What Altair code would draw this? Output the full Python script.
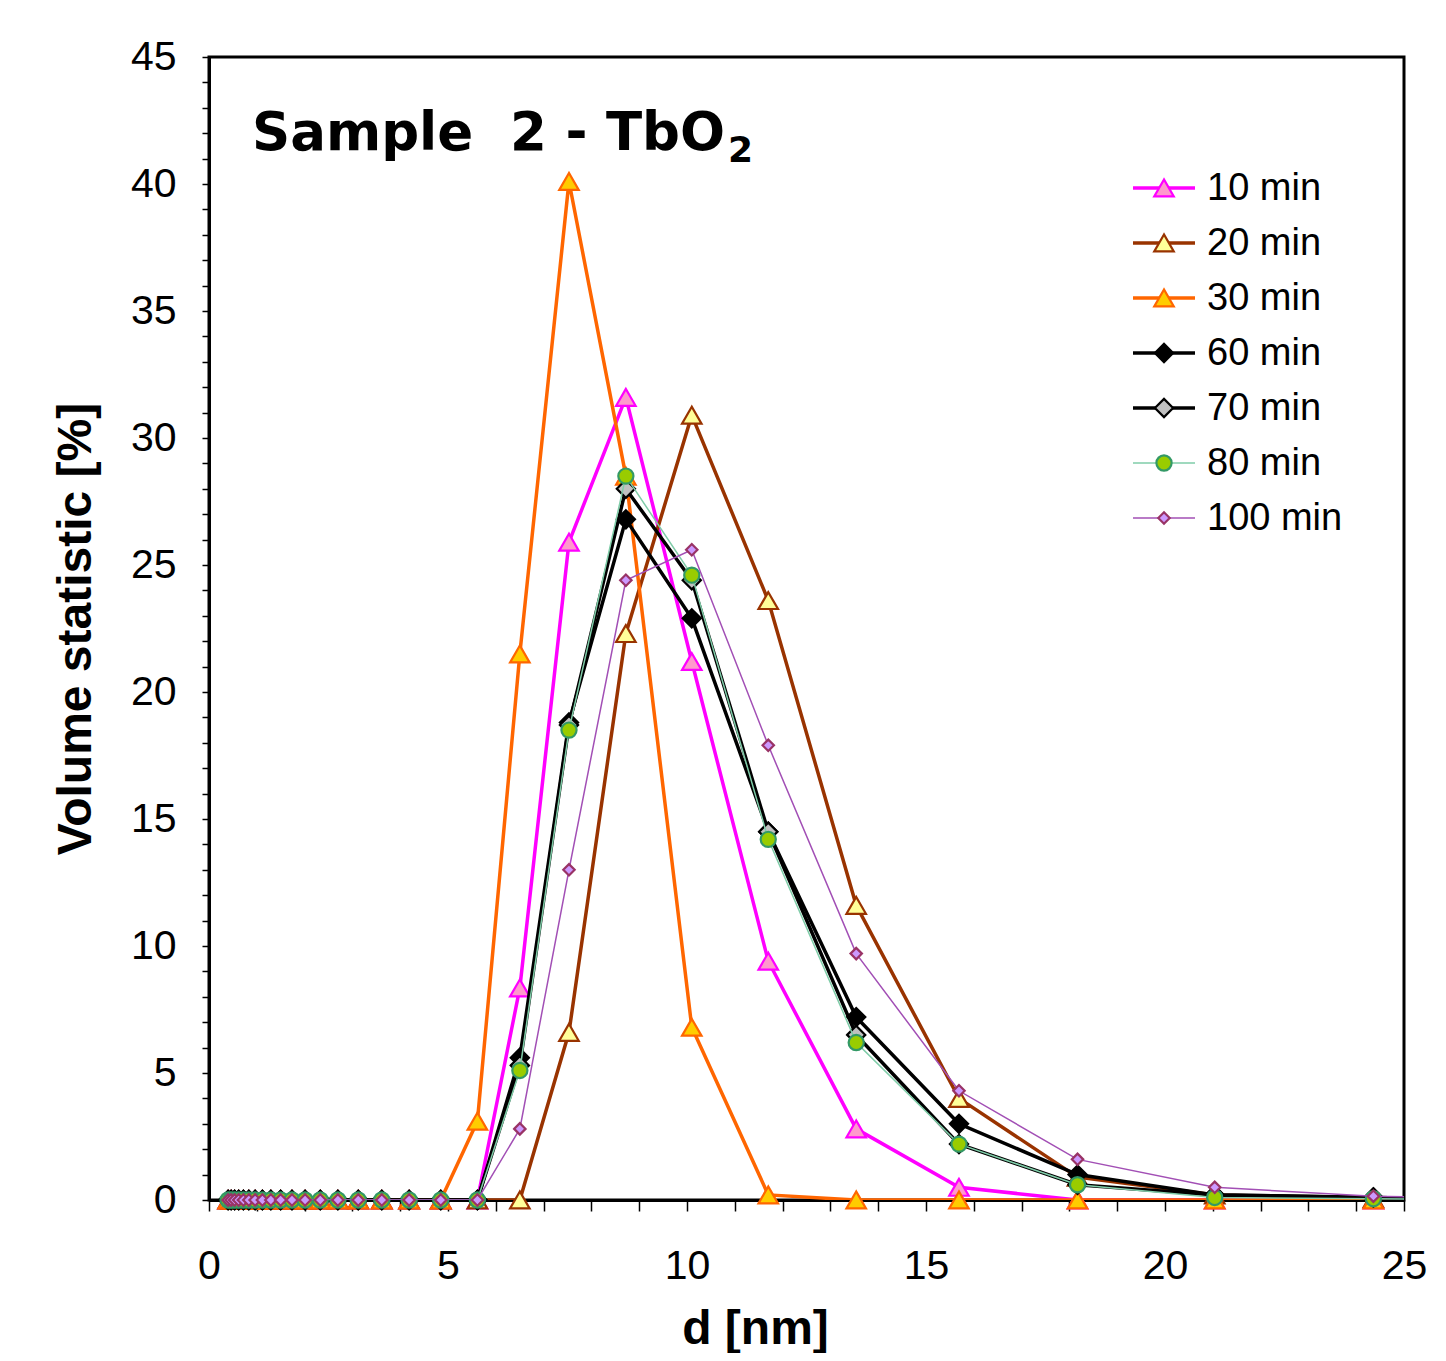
import altair as alt
import pandas as pd

# Size bins [nm]
d_nm = [0.4, 0.4632, 0.5365, 0.6213, 0.7195, 0.8332, 0.9649, 1.117, 1.294, 1.499,
        1.736, 2.01, 2.328, 2.696, 3.122, 3.615, 4.187, 4.849, 5.615, 6.503,
        7.531, 8.721, 10.1, 11.7, 13.54, 15.69, 18.17, 21.04, 24.36, 28.21]

series_names = ["10 min", "20 min", "30 min", "60 min", "70 min", "80 min", "100 min"]

v10 = [0, 0, 0, 0, 0, 0, 0, 0, 0, 0, 0, 0, 0, 0, 0, 0, 0, 0,
       0, 8.35, 25.9, 31.6, 21.2, 9.4, 2.8, 0.5, 0, 0, 0, 0]
v20 = [0, 0, 0, 0, 0, 0, 0, 0, 0, 0, 0, 0, 0, 0, 0, 0, 0, 0,
       0, 0, 6.6, 22.3, 30.9, 23.6, 11.6, 4.0, 0.9, 0.2, 0.05, 0]
v30 = [0, 0, 0, 0, 0, 0, 0, 0, 0, 0, 0, 0, 0, 0, 0, 0, 0, 0,
       3.1, 21.5, 40.1, 28.5, 6.8, 0.2, 0, 0, 0, 0, 0, 0]
v60 = [0, 0, 0, 0, 0, 0, 0, 0, 0, 0, 0, 0, 0, 0, 0, 0, 0, 0,
       0, 5.6, 18.8, 26.8, 22.9, 14.5, 7.2, 3.0, 1.0, 0.2, 0.1, 0]
v70 = [0, 0, 0, 0, 0, 0, 0, 0, 0, 0, 0, 0, 0, 0, 0, 0, 0, 0,
       0, 5.3, 18.7, 28.0, 24.4, 14.5, 6.5, 2.2, 0.6, 0.2, 0.1, 0]
v80 = [0, 0, 0, 0, 0, 0, 0, 0, 0, 0, 0, 0, 0, 0, 0, 0, 0, 0,
       0, 5.1, 18.5, 28.5, 24.6, 14.2, 6.2, 2.2, 0.6, 0.1, 0.05, 0]
v100 = [0, 0, 0, 0, 0, 0, 0, 0, 0, 0, 0, 0, 0, 0, 0, 0, 0, 0,
        0, 2.8, 13.0, 24.4, 25.6, 17.9, 9.7, 4.3, 1.6, 0.5, 0.15, 0]

values = [v10, v20, v30, v60, v70, v80, v100]

# styles: line colour, line width, marker shape, marker size, fill, stroke
styles = {
    "10 min": ("#FF00FF", 3.5, "triangle-up", 380, "#FF99CC", "#FF00FF"),
    "20 min": ("#993300", 3.5, "triangle-up", 380, "#FFFF99", "#993300"),
    "30 min": ("#FF6600", 3.5, "triangle-up", 380, "#FFCC00", "#FF6600"),
    "60 min": ("#000000", 3.5, "diamond", 330, "#000000", "#000000"),
    "70 min": ("#000000", 3.5, "diamond", 330, "#C0C0C0", "#000000"),
    "80 min": ("#7FCCA8", 1.5, "circle", 230, "#99CC00", "#339966"),
    "100 min": ("#A24FB5", 1.5, "diamond", 130, "#CC99FF", "#993366"),
}

rows = []
for name, vals in zip(series_names, values):
    for d, v in zip(d_nm, vals):
        rows.append({"series": name, "d": d, "v": v})
df = pd.DataFrame(rows)

FONT = "Liberation Sans"

x_enc = alt.X("d:Q", scale=alt.Scale(domain=[0, 25], nice=False, zero=False),
              axis=alt.Axis(values=list(range(0, 26)),
                            labelExpr="datum.value % 5 === 0 ? datum.label : ''",
                            labelFlush=False,
                            tickSize=11, tickWidth=1.5, tickColor="black",
                            labelPadding=35, labelFontSize=41, labelFont=FONT, labelColor="black",
                            domainColor="black", domainWidth=3, grid=False,
                            title="d [nm]", titleFont=FONT, titleFontSize=48,
                            titleFontWeight="bold", titleColor="black", titlePadding=19,
                            titleX=546))
y_enc = alt.Y("v:Q", scale=alt.Scale(domain=[0, 45], nice=False),
              axis=alt.Axis(values=list(range(0, 46)),
                            labelExpr="datum.value % 5 === 0 ? datum.label : ''",
                            labelFlush=False,
                            tickSize=7, tickWidth=1.5, tickColor="black",
                            labelPadding=26, labelFontSize=41, labelFont=FONT, labelColor="black",
                            domainColor="black", domainWidth=3, grid=False,
                            title="Volume statistic [%]", titleFont=FONT, titleFontSize=48,
                            titleFontWeight="bold", titleColor="black", titlePadding=30))

base = alt.Chart(df)
layers = []
for i, name in enumerate(series_names):
    lc, lw, shp, sz, fc, sc = styles[name]
    sub = base.transform_filter(alt.datum.series == name)
    line = sub.mark_line(color=lc, strokeWidth=lw, clip=True).encode(x=x_enc, y=y_enc)
    pts = sub.transform_filter(alt.datum.d <= 25).mark_point(
        shape=shp, size=sz, filled=True, fill=fc, stroke=sc, strokeWidth=2.2, opacity=1
    ).encode(x=x_enc, y=y_enc)
    layers += [line, pts]

# legend
leg_df = pd.DataFrame({"series": series_names})
for i, name in enumerate(series_names):
    lc, lw, shp, sz, fc, sc = styles[name]
    ly = 131 + 55 * i
    lsub = alt.Chart(leg_df).transform_filter(alt.datum.series == name)
    layers.append(lsub.mark_rule(color=lc, strokeWidth=lw).encode(
        x=alt.value(924), x2=alt.value(986), y=alt.value(ly)))
    layers.append(lsub.mark_point(shape=shp, size=sz, filled=True, fill=fc, stroke=sc,
                                  strokeWidth=2.2, opacity=1).encode(
        x=alt.value(955), y=alt.value(ly)))
    layers.append(lsub.mark_text(align="left", baseline="middle", font=FONT, fontSize=38,
                                 color="black").encode(
        x=alt.value(998), y=alt.value(ly + 1), text="series:N"))

title_df = pd.DataFrame({"t": ["Sample\u00a0\u00a02 - TbO"], "sub": ["2"]})
layers.append(alt.Chart(title_df).mark_text(align="left", baseline="alphabetic",
                                            font="DejaVu Sans", fontWeight="bold",
                                            fontSize=53, color="black").encode(
    x=alt.value(43), y=alt.value(93), text="t:N"))
layers.append(alt.Chart(title_df).mark_text(align="left", baseline="alphabetic",
                                            font="DejaVu Sans", fontWeight="bold",
                                            fontSize=36, color="black").encode(
    x=alt.value(519), y=alt.value(105), text="sub:N"))

chart = alt.layer(*layers).properties(
    width=1195, height=1143,
    background="white",
    autosize=alt.AutoSizeParams(type="none"),
    padding={"left": 201, "top": 49, "right": 34, "bottom": 153},
).configure_view(stroke="black", strokeWidth=3)

chart.save("out.html", embed_options={"renderer": "svg", "actions": False})
